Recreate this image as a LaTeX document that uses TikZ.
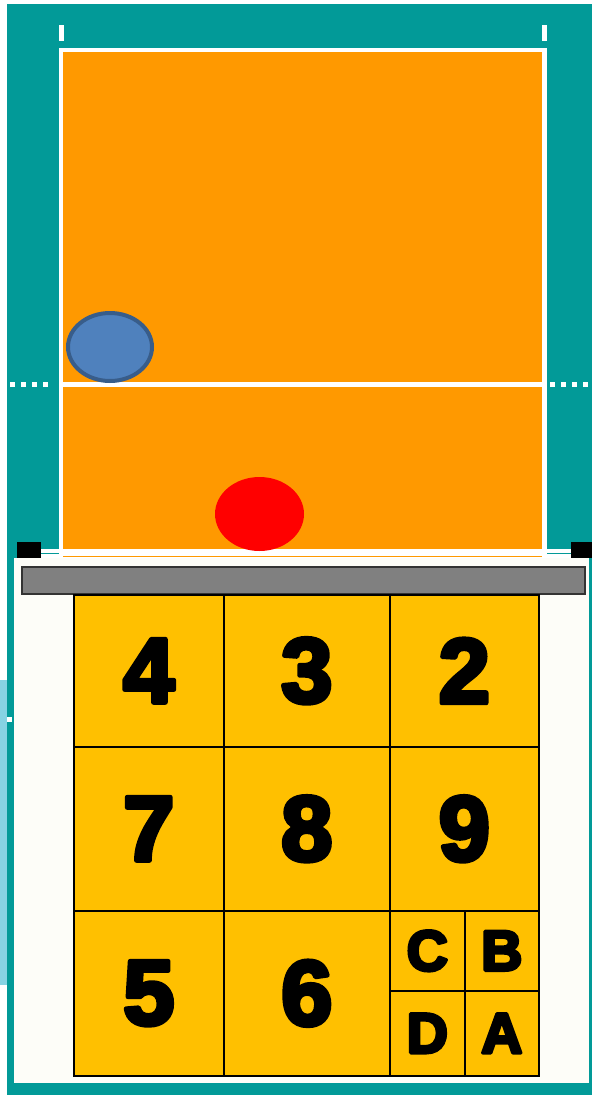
\documentclass[tikz,border=0pt]{standalone}
\usepackage{fontspec}
\setmainfont{Liberation Sans}
\newfontfamily\cellfont{Liberation Sans}[UprightFont={* Bold}]
% fill and stroke the glyphs, to get a black-weight look
\newcommand\heavytext[2][4.6]{\special{pdf:literal direct 0 0 0 RG 2 Tr #1 w 1 j}#2\special{pdf:literal direct 0 Tr}}
\definecolor{courtteal}{HTML}{029A98}
\definecolor{courtorange}{HTML}{FF9900}
\definecolor{zoneyellow}{HTML}{FFC000}
\definecolor{ballblue}{HTML}{4F81BD}
\definecolor{ballrim}{HTML}{385D8A}
\definecolor{panelwhite}{HTML}{FDFDF8}
\definecolor{netgray}{HTML}{808080}
\definecolor{wispblue}{HTML}{86D3E3}
\tikzset{
    zonecell/.style={draw=black, line width=1.6pt, fill=zoneyellow, inner sep=0pt,
        anchor=north west, font=\cellfont\fontsize{92}{92}\selectfont},
    subcell/.style={zonecell, font=\cellfont\fontsize{57}{57}\selectfont},
    netbar/.style={draw=black!80, line width=1.5pt, fill=netgray, inner sep=0pt, anchor=north west}
}

\begin{document}
\begin{tikzpicture}[x=1pt, y=-1pt]
    \useasboundingbox (0,0) rectangle (592,1095);

    % court
    \fill[courtteal] (7,4) rectangle (592,1095);
    \fill[wispblue] (0,680) rectangle (7,985);
    \fill[white] (59,48) rectangle (547,558);
    \fill[courtorange] (63,52) rectangle (542,549);
    \draw[white, line width=5pt] (63,384.5) -- (542,384.5);
    \fill[white] (40,549) rectangle (571,558);
    \draw[courtteal, line width=1pt] (40,553.5) -- (59,553.5);
    \draw[courtteal, line width=1pt] (547,553.5) -- (571,553.5);
    \draw[courtorange, line width=1pt] (63,556) -- (542,556);
    \fill[white] (59,25) rectangle (64,41);
    \fill[white] (542,25) rectangle (547,41);
    \foreach \x in {10,21,32,43,550,561,572,583}
        \fill[white] (\x,382) rectangle ++(5,5);
    \fill[black] (17,542) rectangle (41,558);
    \fill[black] (571,542) rectangle (592,558);

    % balls
    \draw[fill=ballblue, draw=ballrim, line width=4pt] (110,347) ellipse [x radius=42, y radius=34];
    \fill[red] (259.5,514) ellipse [x radius=44.5, y radius=37];

    % zone panel
    \fill[panelwhite] (14,558) rectangle (589,1083);
    \fill[white] (7,717) rectangle (12,722);
    \node[netbar, minimum width=563pt, minimum height=27pt] (net) at (21,566) {};

    \node[zonecell, minimum width=150pt, minimum height=152pt] (z4) at (73,594) {\heavytext{4}};
    \node[zonecell, minimum width=166pt, minimum height=152pt] (z3) at (223,594) {\heavytext{3}};
    \node[zonecell, minimum width=149pt, minimum height=152pt] (z2) at (389,594) {\heavytext{2}};
    \node[zonecell, minimum width=150pt, minimum height=164pt] (z7) at (73,746) {\heavytext{7}};
    \node[zonecell, minimum width=166pt, minimum height=164pt] (z8) at (223,746) {\heavytext{8}};
    \node[zonecell, minimum width=149pt, minimum height=164pt] (z9) at (389,746) {\heavytext{9}};
    \node[zonecell, minimum width=150pt, minimum height=165pt] (z5) at (73,910) {\heavytext{5}};
    \node[zonecell, minimum width=166pt, minimum height=165pt] (z6) at (223,910) {\heavytext{6}};

    \node[subcell, minimum width=75pt, minimum height=80pt] (zc) at (389,910) {\heavytext[3.2]{C}};
    \node[subcell, minimum width=74pt, minimum height=80pt] (zb) at (464,910) {\heavytext[3.2]{B}};
    \node[subcell, minimum width=75pt, minimum height=85pt] (zd) at (389,990) {\heavytext[3.2]{D}};
    \node[subcell, minimum width=74pt, minimum height=85pt] (za) at (464,990) {\heavytext[3.2]{A}};
\end{tikzpicture}
\end{document}
